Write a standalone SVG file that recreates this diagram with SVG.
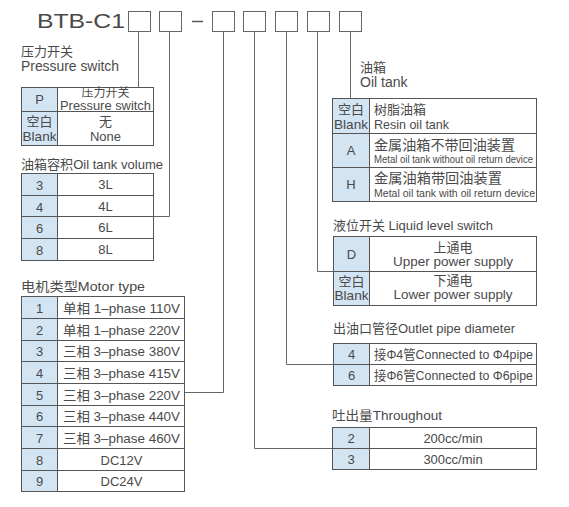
<svg xmlns="http://www.w3.org/2000/svg" width="569" height="507" viewBox="0 0 569 507">
<style>
.t{font-family:"Liberation Sans","Noto Sans CJK SC",sans-serif;fill:#4a4a4a;font-size:13px}
.c{text-anchor:middle}
.s{font-size:10px}
.tab{fill:#fff;stroke:#555;stroke-width:1}
.key{fill:#d3e4f3;stroke:#555;stroke-width:1}
.box{fill:#fff;stroke:#666;stroke-width:1}
.conn{fill:none;stroke:#666;stroke-width:1}
</style>
<rect width="569" height="507" fill="#fff"/>

<g id="title">
<text class="t" x="37" y="28" style="font-size:21px" textLength="88" lengthAdjust="spacingAndGlyphs">BTB-C1</text>
<rect class="box" x="128.5" y="11.5" width="22" height="20"/>
<rect class="box" x="159.5" y="11.5" width="22" height="20"/>
<line x1="192" y1="21.5" x2="203" y2="21.5" stroke="#555" stroke-width="1.5"/>
<rect class="box" x="212.5" y="11.5" width="22" height="20"/>
<rect class="box" x="243.5" y="11.5" width="22" height="20"/>
<rect class="box" x="275.5" y="11.5" width="22" height="20"/>
<rect class="box" x="307.5" y="11.5" width="22" height="20"/>
<rect class="box" x="339.5" y="11.5" width="22" height="20"/>
</g>

<g id="connectors">
<polyline class="conn" points="138.5,31.5 138.5,87.5"/>
<polyline class="conn" points="169.5,31.5 169.5,216.5 154,216.5"/>
<polyline class="conn" points="223.5,31.5 223.5,392.5 185,392.5"/>
<polyline class="conn" points="254.5,31.5 254.5,448.5 332,448.5"/>
<polyline class="conn" points="286.5,31.5 286.5,364.5 333,364.5"/>
<polyline class="conn" points="317.5,31.5 317.5,271.5 333,271.5"/>
<polyline class="conn" points="350.5,31.5 350.5,98.5"/>
</g>

<g id="pressure-switch">
<text class="t" x="21" y="56">压力开关</text>
<text class="t" x="21" y="71" style="font-size:14px" textLength="98" lengthAdjust="spacingAndGlyphs">Pressure switch</text>
<rect class="key" x="21.5" y="87.5" width="36" height="58"/>
<rect class="tab" x="57.5" y="87.5" width="96" height="58"/>
<line x1="21.5" y1="111.5" x2="153.5" y2="111.5" stroke="#555"/>
<text class="t c" x="39.5" y="104">P</text>
<text class="t c" x="105.5" y="97" style="font-size:12px">压力开关</text>
<text class="t c" x="105.5" y="110" style="font-size:12px" textLength="91" lengthAdjust="spacingAndGlyphs">Pressure switch</text>
<text class="t c" x="39.5" y="126">空白</text>
<text class="t c" x="39.5" y="141" textLength="34" lengthAdjust="spacingAndGlyphs">Blank</text>
<text class="t c" x="105.5" y="126">无</text>
<text class="t c" x="105.5" y="141">None</text>
</g>

<g id="oil-tank-volume">
<text class="t" x="21" y="169" textLength="142" lengthAdjust="spacingAndGlyphs">油箱容积Oil tank volume</text>
<rect class="key" x="21.5" y="173.5" width="36" height="87"/>
<rect class="tab" x="57.5" y="173.5" width="96" height="87"/>
<line x1="21.5" y1="195.5" x2="153.5" y2="195.5" stroke="#555"/>
<line x1="21.5" y1="216.5" x2="153.5" y2="216.5" stroke="#555"/>
<line x1="21.5" y1="238.5" x2="153.5" y2="238.5" stroke="#555"/>
<text class="t c" x="39.5" y="190">3</text><text class="t c" x="105.5" y="189">3L</text>
<text class="t c" x="39.5" y="212">4</text><text class="t c" x="105.5" y="211">4L</text>
<text class="t c" x="39.5" y="233">6</text><text class="t c" x="105.5" y="232">6L</text>
<text class="t c" x="39.5" y="255">8</text><text class="t c" x="105.5" y="254">8L</text>
</g>

<g id="motor-type">
<text class="t" x="21" y="291" textLength="124" lengthAdjust="spacingAndGlyphs">电机类型Motor type</text>
<rect class="key" x="21.5" y="296.5" width="36" height="195"/>
<rect class="tab" x="57.5" y="296.5" width="127" height="195"/>
<line x1="21.5" y1="318.5" x2="184.5" y2="318.5" stroke="#555"/>
<line x1="21.5" y1="340.5" x2="184.5" y2="340.5" stroke="#555"/>
<line x1="21.5" y1="361.5" x2="184.5" y2="361.5" stroke="#555"/>
<line x1="21.5" y1="383.5" x2="184.5" y2="383.5" stroke="#555"/>
<line x1="21.5" y1="405.5" x2="184.5" y2="405.5" stroke="#555"/>
<line x1="21.5" y1="426.5" x2="184.5" y2="426.5" stroke="#555"/>
<line x1="21.5" y1="448.5" x2="184.5" y2="448.5" stroke="#555"/>
<line x1="21.5" y1="470.5" x2="184.5" y2="470.5" stroke="#555"/>
<text class="t c" x="39.5" y="313">1</text><text class="t c" x="121.5" y="313" textLength="117" lengthAdjust="spacingAndGlyphs">单相 1–phase 110V</text>
<text class="t c" x="39.5" y="335">2</text><text class="t c" x="121.5" y="335" textLength="117" lengthAdjust="spacingAndGlyphs">单相 1–phase 220V</text>
<text class="t c" x="39.5" y="356">3</text><text class="t c" x="121.5" y="356" textLength="117" lengthAdjust="spacingAndGlyphs">三相 3–phase 380V</text>
<text class="t c" x="39.5" y="378">4</text><text class="t c" x="121.5" y="378" textLength="117" lengthAdjust="spacingAndGlyphs">三相 3–phase 415V</text>
<text class="t c" x="39.5" y="400">5</text><text class="t c" x="121.5" y="400" textLength="117" lengthAdjust="spacingAndGlyphs">三相 3–phase 220V</text>
<text class="t c" x="39.5" y="421">6</text><text class="t c" x="121.5" y="421" textLength="117" lengthAdjust="spacingAndGlyphs">三相 3–phase 440V</text>
<text class="t c" x="39.5" y="443">7</text><text class="t c" x="121.5" y="443" textLength="117" lengthAdjust="spacingAndGlyphs">三相 3–phase 460V</text>
<text class="t c" x="39.5" y="465">8</text><text class="t c" x="121.5" y="465">DC12V</text>
<text class="t c" x="39.5" y="486">9</text><text class="t c" x="121.5" y="486">DC24V</text>
</g>

<g id="oil-tank">
<text class="t" x="360" y="72">油箱</text>
<text class="t" x="360" y="87" style="font-size:14px">Oil tank</text>
<rect class="key" x="332.5" y="98.5" width="37" height="103"/>
<rect class="tab" x="369.5" y="98.5" width="167" height="103"/>
<line x1="332.5" y1="133.5" x2="536.5" y2="133.5" stroke="#555"/>
<line x1="332.5" y1="167.5" x2="536.5" y2="167.5" stroke="#555"/>
<text class="t c" x="351" y="114">空白</text>
<text class="t c" x="351" y="129" textLength="34" lengthAdjust="spacingAndGlyphs">Blank</text>
<text class="t" x="374" y="114">树脂油箱</text>
<text class="t" x="374" y="129" textLength="75" lengthAdjust="spacingAndGlyphs">Resin oil tank</text>
<text class="t c" x="351" y="155">A</text>
<text class="t" x="374" y="150" style="font-size:14px" textLength="141" lengthAdjust="spacingAndGlyphs">金属油箱不带回油装置</text>
<text class="t s" x="374" y="163" textLength="159" lengthAdjust="spacingAndGlyphs">Metal oil tank without oil return device</text>
<text class="t c" x="351" y="189">H</text>
<text class="t" x="374" y="183" style="font-size:14px" textLength="128" lengthAdjust="spacingAndGlyphs">金属油箱带回油装置</text>
<text class="t s" x="374" y="197" textLength="161" lengthAdjust="spacingAndGlyphs">Metal oil tank with oil return device</text>
</g>

<g id="liquid-level-switch">
<text class="t" x="333" y="230" textLength="160" lengthAdjust="spacingAndGlyphs">液位开关 Liquid level switch</text>
<rect class="key" x="333.5" y="236.5" width="36" height="69"/>
<rect class="tab" x="369.5" y="236.5" width="167" height="69"/>
<line x1="333.5" y1="271.5" x2="536.5" y2="271.5" stroke="#555"/>
<text class="t c" x="351.5" y="259">D</text>
<text class="t c" x="453" y="252">上通电</text>
<text class="t c" x="453" y="266" style="font-size:13.5px" textLength="120" lengthAdjust="spacingAndGlyphs">Upper power supply</text>
<text class="t c" x="351.5" y="286">空白</text>
<text class="t c" x="351.5" y="300" textLength="34" lengthAdjust="spacingAndGlyphs">Blank</text>
<text class="t c" x="453" y="285">下通电</text>
<text class="t c" x="453" y="299" style="font-size:13.5px" textLength="119" lengthAdjust="spacingAndGlyphs">Lower power supply</text>
</g>

<g id="outlet-pipe-diameter">
<text class="t" x="333" y="333" textLength="182" lengthAdjust="spacingAndGlyphs">出油口管径Outlet pipe diameter</text>
<rect class="key" x="333.5" y="343.5" width="36" height="42"/>
<rect class="tab" x="369.5" y="343.5" width="167" height="42"/>
<line x1="333.5" y1="364.5" x2="536.5" y2="364.5" stroke="#555"/>
<text class="t c" x="351.5" y="359">4</text>
<text class="t" x="374" y="359" textLength="159" lengthAdjust="spacingAndGlyphs">接Φ4管Connected to Φ4pipe</text>
<text class="t c" x="351.5" y="380">6</text>
<text class="t" x="374" y="380" textLength="159" lengthAdjust="spacingAndGlyphs">接Φ6管Connected to Φ6pipe</text>
</g>

<g id="throughout">
<text class="t" x="332" y="420" textLength="110" lengthAdjust="spacingAndGlyphs">吐出量Throughout</text>
<rect class="key" x="332.5" y="427.5" width="37" height="42"/>
<rect class="tab" x="369.5" y="427.5" width="167" height="42"/>
<line x1="332.5" y1="448.5" x2="536.5" y2="448.5" stroke="#555"/>
<text class="t c" x="351" y="443">2</text>
<text class="t c" x="453" y="443">200cc/min</text>
<text class="t c" x="351" y="464">3</text>
<text class="t c" x="453" y="464">300cc/min</text>
</g>
</svg>
